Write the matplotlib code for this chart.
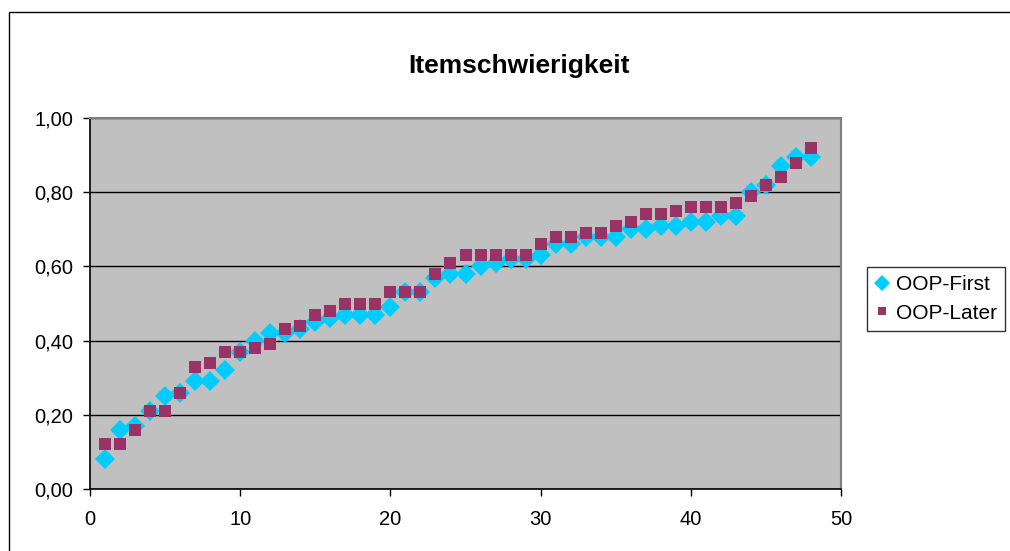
import matplotlib
matplotlib.use("Agg")
import matplotlib.pyplot as plt
from matplotlib.patches import Rectangle
from matplotlib.ticker import FuncFormatter

plt.rcParams['font.family'] = ['Liberation Sans', 'DejaVu Sans']

title = "Itemschwierigkeit"
series_names = ["OOP-First", "OOP-Later"]
items = list(range(1, 49))
oop_first = [0.08, 0.16, 0.17, 0.21, 0.25, 0.26, 0.29, 0.29, 0.32, 0.37,
             0.40, 0.42, 0.42, 0.43, 0.45, 0.46, 0.47, 0.47, 0.47, 0.49,
             0.53, 0.53, 0.57, 0.58, 0.58, 0.60, 0.61, 0.62, 0.62, 0.63,
             0.66, 0.66, 0.68, 0.68, 0.68, 0.70, 0.70, 0.71, 0.71, 0.72,
             0.72, 0.735, 0.735, 0.80, 0.82, 0.87, 0.895, 0.895]
oop_later = [0.12, 0.12, 0.16, 0.21, 0.21, 0.26, 0.33, 0.34, 0.37, 0.37,
             0.38, 0.39, 0.43, 0.44, 0.47, 0.48, 0.50, 0.50, 0.50, 0.53,
             0.53, 0.53, 0.58, 0.61, 0.63, 0.63, 0.63, 0.63, 0.63, 0.66,
             0.68, 0.68, 0.69, 0.69, 0.71, 0.72, 0.74, 0.74, 0.75, 0.76,
             0.76, 0.76, 0.77, 0.79, 0.82, 0.84, 0.88, 0.92]
x_ticks = [0, 10, 20, 30, 40, 50]
y_ticks = [0.0, 0.2, 0.4, 0.6, 0.8, 1.0]

W, H = 1010, 551
fig = plt.figure(figsize=(W / 100, H / 100), dpi=100)
fig.patch.set_facecolor('white')

# outer chart border
fig.patches.append(Rectangle((9 / W, -0.1), 1.2, 1 - 12 / H + 0.1,
                             transform=fig.transFigure, fill=False,
                             edgecolor='black', linewidth=1.0))

left, right, top, bottom = 90 / W, 841 / W, 1 - 118 / H, 1 - 489 / H
ax = fig.add_axes([left, bottom, right - left, top - bottom])
ax.set_facecolor('#C0C0C0')

ax.set_xlim(0, 50)
ax.set_ylim(0, 1.0)
ax.set_xticks(x_ticks)
ax.set_yticks(y_ticks)
ax.yaxis.set_major_formatter(FuncFormatter(lambda v, p: f"{v:.2f}".replace('.', ',')))
ax.grid(axis='y', color='black', linewidth=1.0)
ax.set_axisbelow(True)

ax.plot(items, oop_first, linestyle='none', marker='D', markersize=10.5,
        color='#00CCFF', markeredgewidth=0, label=series_names[0], zorder=3)
ax.plot(items, oop_later, linestyle='none', marker='s', markersize=8,
        color='#993366', markeredgewidth=0, label=series_names[1], zorder=4)

for s in ['top', 'right']:
    ax.spines[s].set_color('#808080')
    ax.spines[s].set_linewidth(1.5)
for s in ['left', 'bottom']:
    ax.spines[s].set_color('black')
    ax.spines[s].set_linewidth(1.2)

ax.tick_params(axis='both', direction='out', length=5, width=1, labelsize=14.5,
               colors='black')
ax.tick_params(axis='y', pad=7)
ax.tick_params(axis='x', pad=10)

fig.text(519 / W, 1 - 73 / H, title, ha='center', va='baseline',
         fontsize=19, fontweight='bold')

leg = fig.legend(loc='center', bbox_to_anchor=(936 / W, 1 - 299 / H),
                 fontsize=15, frameon=True, fancybox=False, shadow=False,
                 handlelength=0.7, handletextpad=0.3, borderpad=0.4,
                 labelspacing=0.45, numpoints=1, borderaxespad=0,
                 markerscale=0.8)
leg.get_frame().set_edgecolor('black')
leg.get_frame().set_linewidth(1.0)

fig.savefig('out.png', dpi=100)
